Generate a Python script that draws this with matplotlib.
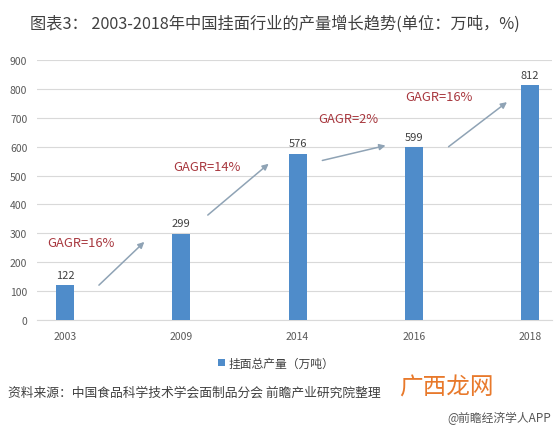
import matplotlib
matplotlib.use("Agg")
import matplotlib.pyplot as plt

plt.rcParams['font.family'] = ['Noto Sans CJK SC', 'DejaVu Sans']

years = ["2003", "2009", "2014", "2016", "2018"]
output = [122, 299, 576, 599, 812]
growth_labels = ["GAGR=16%", "GAGR=14%", "GAGR=2%", "GAGR=16%"]

fig = plt.figure(figsize=(5.54, 4.31), dpi=100)
ax = fig.add_axes([0.0668, 0.2552, 0.93, 0.6033])

x = list(range(len(years)))
ax.bar(x, output, width=0.155, color="#4f8cca", zorder=3, label="挂面总产量（万吨）")
for xi, v in zip(x, output):
    ax.text(xi, v + 18, str(v), ha='center', va='bottom', fontsize=8, color="#404040")

# growth arrows and labels (placed between bars)
arrows = [((0.275, 114), (0.70, 277)), ((1.21, 357), (1.77, 547)),
          ((2.19, 550), (2.78, 606)), ((3.28, 594), (3.82, 760))]
text_pos = [(-0.155, 270), (0.93, 530), (2.18, 696), (2.93, 772)]
for (start, end), (tx, ty), lab in zip(arrows, text_pos, growth_labels):
    ax.annotate("", xy=end, xytext=start,
                arrowprops=dict(arrowstyle="-|>", color="#8fa3b5", lw=1.1,
                                mutation_scale=9))
    ax.text(tx, ty, lab, ha='left', va='center', fontsize=9.3, color="#a8383f")

ax.set_xlim(-0.24, 4.19)
ax.set_ylim(0, 900)
ax.set_yticks(range(0, 901, 100))
ax.set_xticks(x)
ax.set_xticklabels(years)
ax.tick_params(axis='both', length=0, labelsize=7.5, colors="#595959")
ax.tick_params(axis='y', pad=7)
ax.tick_params(axis='x', pad=8)
ax.grid(axis='y', color="#d9d9d9", lw=0.8, zorder=0)
for s in ["top", "right", "left"]:
    ax.spines[s].set_visible(False)
ax.spines['bottom'].set_color("#d9d9d9")

ax.legend(loc='upper center', bbox_to_anchor=(0.465, -0.1), frameon=False,
          fontsize=8.5, handlelength=0.6, handleheight=0.6, handletextpad=0.3,
          labelcolor="#404040")

fig.text(0.054, 0.944, "图表3： 2003-2018年中国挂面行业的产量增长趋势(单位：万吨，%)",
         ha='left', va='center', fontsize=11.7, color="#404040")
fig.text(0.014, 0.088, "资料来源：中国食品科学技术学会面制品分会 前瞻产业研究院整理",
         ha='left', va='center', fontsize=9.2, color="#404040")
fig.text(0.72, 0.10, "广西龙网", ha='left', va='center', fontsize=17, color="#e8792b")
fig.text(0.995, 0.03, "@前瞻经济学人APP", ha='right', va='center', fontsize=8.5, color="#555555")

fig.savefig("out.png", dpi=100)
